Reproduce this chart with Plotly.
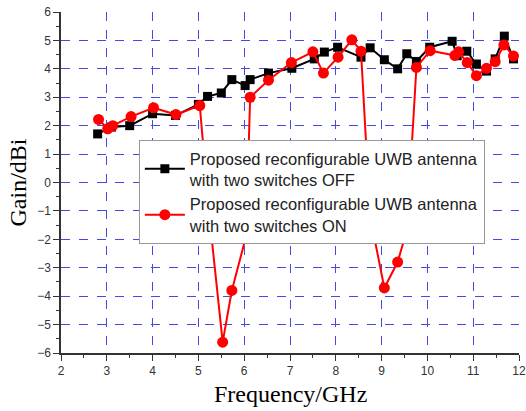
import plotly.graph_objects as go

off_freq = [2.8, 3.1, 3.5, 4.0, 4.5, 5.0, 5.2, 5.5, 5.73, 6.02, 6.13, 6.53, 7.04, 7.53, 7.75, 8.04,
            8.55, 8.75, 9.06, 9.35, 9.55, 9.76, 10.05, 10.54, 10.65, 10.86, 11.07, 11.29, 11.48, 11.68, 11.88]
off_gain = [1.71, 1.95, 2.0, 2.42, 2.36, 2.75, 3.03, 3.15, 3.62, 3.41, 3.62, 3.85, 4.02, 4.35, 4.59, 4.76,
            4.41, 4.74, 4.32, 4.0, 4.53, 4.26, 4.76, 4.97, 4.46, 4.62, 4.17, 3.92, 4.35, 5.15, 4.35]

on_freq = [2.82, 3.02, 3.13, 3.53, 4.02, 4.51, 5.03, 5.24, 5.53, 5.73, 6.04, 6.13, 6.53, 7.03, 7.5, 7.73,
           8.05, 8.35, 8.55, 8.75, 9.06, 9.35, 9.55, 9.76, 10.06, 10.6, 10.68, 10.87, 11.07, 11.29, 11.48, 11.67, 11.88]
on_gain = [2.22, 1.89, 2.0, 2.32, 2.63, 2.39, 2.71, -1.2, -5.62, -3.8, -1.9, 3.0, 3.6, 4.22, 4.6, 3.85,
           4.41, 5.02, 4.62, -1.2, -3.71, -2.8, -1.69, 4.05, 4.64, 4.47, 4.6, 4.22, 3.76, 4.02, 4.25, 4.84, 4.45]

labels = ["Proposed reconfigurable UWB antenna<br>with two switches OFF",
          "Proposed reconfigurable UWB antenna<br>with two switches ON"]
x_title = "Frequency/GHz"
y_title = "Gain/dBi"

fig = go.Figure()
fig.add_trace(go.Scatter(x=off_freq, y=off_gain, mode="lines+markers", name=labels[0],
                         line=dict(color="black", width=2),
                         marker=dict(symbol="square", size=9, color="black")))
fig.add_trace(go.Scatter(x=on_freq, y=on_gain, mode="lines+markers", name=labels[1],
                         line=dict(color="#ff0000", width=2),
                         marker=dict(symbol="circle", size=11, color="#ff0000")))

grid_color = "#4848e8"
fig.update_layout(
    width=526, height=411,
    margin=dict(l=61, r=7, t=12, b=58),
    paper_bgcolor="white", plot_bgcolor="white",
    font=dict(family="Liberation Sans, Arial", color="#333333", size=12),
    legend=dict(x=0.17, y=0.625, xanchor="left", yanchor="top",
                bgcolor="white", bordercolor="#999999", borderwidth=1,
                font=dict(family="Liberation Sans, Arial", size=16.5, color="#222222"),
                itemwidth=40, tracegroupgap=0),
    xaxis=dict(range=[2, 12], tickvals=[2, 3, 4, 5, 6, 7, 8, 9, 10, 11, 12], automargin=False,
               showline=True, linecolor="#333333", linewidth=1.5,
               ticks="outside", ticklen=6, tickcolor="#333333",
               minor=dict(ticks="outside", ticklen=3, dtick=0.5, tickcolor="#333333", showgrid=False),
               showgrid=True, gridcolor=grid_color, griddash="dash", gridwidth=1,
               zeroline=False),
    yaxis=dict(range=[-6, 6], tickvals=list(range(-6, 7)), automargin=False,
               showline=True, linecolor="#333333", linewidth=1.5,
               ticks="outside", ticklen=6, tickcolor="#333333",
               minor=dict(ticks="outside", ticklen=3, dtick=0.5, tickcolor="#333333", showgrid=False),
               showgrid=True, gridcolor=grid_color, griddash="dash", gridwidth=1,
               zeroline=False,
               title=dict(text=y_title, font=dict(family="Liberation Serif, Times New Roman", size=24, color="black"), standoff=4)),
    annotations=[dict(text=x_title, xref="paper", yref="paper", x=0.5, y=0,
                      xanchor="center", yanchor="middle", yshift=-41, showarrow=False,
                      font=dict(family="Liberation Serif, Times New Roman", size=24, color="black"))],
)

fig.write_html("out.html")
